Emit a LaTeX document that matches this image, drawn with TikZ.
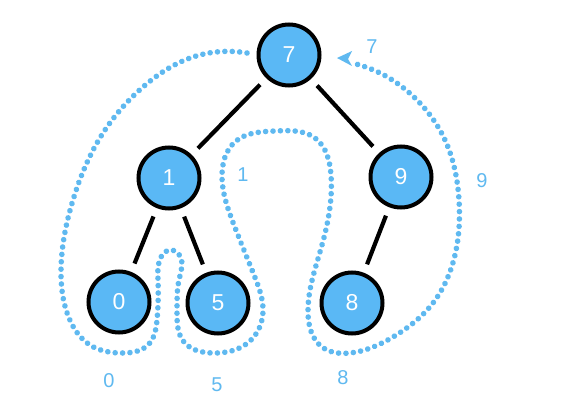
\documentclass[tikz,border=0pt]{standalone}
\usepackage{fontspec}
\setmainfont{Liberation Sans}
\usetikzlibrary{arrows.meta,hobby}
\definecolor{nodeblue}{RGB}{90,184,245}
\definecolor{lineblue}{RGB}{95,185,240}
\begin{document}
\begin{tikzpicture}[x=1pt,y=-1pt,
  treenode/.style={circle,draw=black,line width=4pt,fill=nodeblue,minimum size=61pt,inner sep=0pt,text=white,font=\fontsize{23}{23}\selectfont},
  edge/.style={line width=4.2pt,shorten <=9pt,shorten >=9pt},
  order/.style={text=lineblue,font=\fontsize{20}{20}\selectfont},
  contour/.style={draw=lineblue,line width=5.6pt,line cap=round,dash pattern=on 0.01pt off 7.4pt}]
\useasboundingbox (0,0) rectangle (564,406);
\fill[white] (0,0) rectangle (564,406);
\node[treenode] (n7) at (289,55) {7};
\node[treenode] (n1) at (169,178) {1};
\node[treenode] (n9) at (401,177) {9};
\node[treenode] (n0) at (119,302) {0};
\node[treenode] (n5) at (218,303) {5};
\node[treenode] (n8) at (352,303) {8};
\draw[edge] (n7) -- (n1);
\draw[edge] (n7) -- (n9);
\draw[edge] (n1) -- (n0);
\draw[edge] (n1) -- (n5);
\draw[edge] (n9) -- (n8);
\node[order] (l7) at (372,47) {7};
\node[order] (l1) at (243,175) {1};
\node[order] (l9) at (482,181) {9};
\node[order] (l0) at (109,381) {0};
\node[order] (l5) at (217,385) {5};
\node[order] (l8) at (343,378) {8};
\coordinate (cs) at (247,53);
\coordinate (ce) at (352,63);
\coordinate (tip) at (337,58);
\draw[contour,use Hobby shortcut] (cs) .. (193,57) .. (143,87) .. (103,133) .. (73,200) .. (61,270)
 .. (69,318) .. (90,345) .. (123,353) .. (148,345) .. (157,320) .. (158,280) .. (161,257)
 .. (170,250) .. (180,256) .. (179,280) .. (177,310) .. (184,342) .. (212,353) .. (250,341)
 .. (263,312) .. (254,275) .. (234,225) .. (222,178) .. (236,141) .. (275,131) .. (315,138)
 .. (331,175) .. (322,245) .. (308,313) .. (322,347) .. (350,353) .. (393,337) .. (433,303)
 .. (455,255) .. (459,200) .. (445,140) .. (417,100) .. (380,73) .. (ce);
\fill[lineblue] (tip) -- ++(15,-7) -- ++(-4,8) -- ++(4,7) -- cycle;
\end{tikzpicture}
\end{document}
